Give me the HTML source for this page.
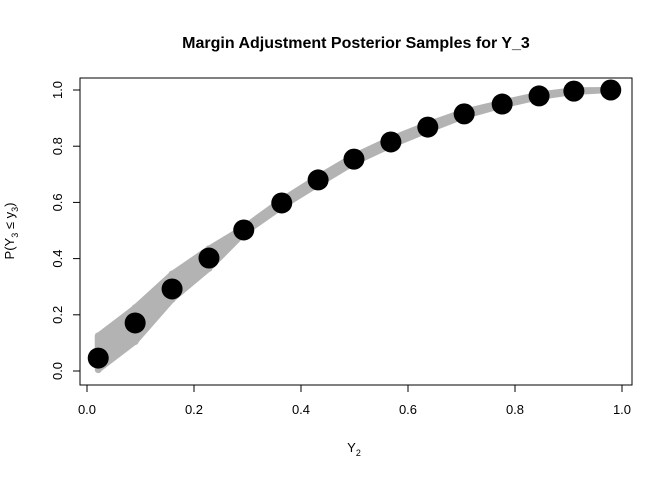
<!DOCTYPE html>
<html><head><meta charset="utf-8"><style>
body{margin:0;background:#fff;font-family:"Liberation Sans",Arial,sans-serif}
svg text{font-family:"Liberation Sans",Arial,sans-serif}
</style></head><body>
<svg id="c" width="672" height="480" xmlns="http://www.w3.org/2000/svg">
<rect width="672" height="480" fill="#fff"/>
<text x="356" y="48" text-anchor="middle" font-size="16" font-weight="bold">Margin Adjustment Posterior Samples for Y_3</text>
<rect x="80" y="78" width="552" height="307" fill="none" stroke="#000"/>
<g id="band"></g>
<g id="pts"></g>
<g id="xax"></g>
<g id="yax"></g>
<text x="354" y="452" text-anchor="middle" font-size="13">Y<tspan font-size="9" dy="4">2</tspan></text>
<text transform="translate(14,231) rotate(-90)" text-anchor="middle" font-size="13">P(Y<tspan font-size="9" dy="4">3</tspan><tspan dy="-4"> ≤ y</tspan><tspan font-size="9" dy="4">3</tspan><tspan dy="-4">)</tspan></text>
</svg>
<script>
const xs=[0.021,0.09,0.159,0.228,0.293,0.364,0.432,0.499,0.568,0.637,0.705,0.776,0.845,0.910,0.979];
const ys=[0.046,0.171,0.292,0.402,0.502,0.598,0.68,0.754,0.815,0.868,0.915,0.950,0.979,0.996,1.0];
const lo=[0.005,0.105,0.255,0.365,0.49,0.585,0.665,0.742,0.803,0.857,0.907,0.945,0.975,0.993,1.0];
const hi=[0.125,0.225,0.345,0.435,0.51,0.608,0.69,0.765,0.826,0.878,0.923,0.955,0.984,0.999,1.0];
const xTicks=[0,0.2,0.4,0.6,0.8,1.0];
const yTicks=[0,0.2,0.4,0.6,0.8,1.0];
const X=v=>87+v*535, Y=v=>371-v*281;
const NS="http://www.w3.org/2000/svg";
function mk(t,a,p){const e=document.createElementNS(NS,t);for(const k in a)e.setAttribute(k,a[k]);p.appendChild(e);return e;}
const band=document.getElementById('band');
let d='M'+xs.map((x,i)=>X(x)+','+Y(hi[i])).join('L')+'L'+xs.map((x,i)=>X(x)+','+Y(lo[i])).reverse().join('L')+'Z';
const poly=mk('path',{d:d,fill:'#b3b3b3',stroke:'#b3b3b3','stroke-width':6,'stroke-linejoin':'round'},band);


xs.forEach((x,i)=>{const l=mk('line',{x1:X(x),x2:X(x),y1:Y(lo[i]),y2:Y(hi[i]),stroke:'#b3b3b3','stroke-width':7,'stroke-linecap':'round'},band);

});
const pts=document.getElementById('pts');
xs.forEach((x,i)=>{const c=mk('circle',{cx:X(x),cy:Y(ys[i]),r:10.5,fill:'#000'},pts);

});
const xa=document.getElementById('xax');
mk('line',{x1:X(0),x2:X(1),y1:385,y2:385,stroke:'#000'},xa);
xTicks.forEach(t=>{mk('line',{x1:X(t),x2:X(t),y1:385,y2:392,stroke:'#000'},xa);
const tx=mk('text',{x:X(t),y:414,'text-anchor':'middle','font-size':13},xa);tx.textContent=t.toFixed(1);

});
const ya=document.getElementById('yax');
mk('line',{x1:80,x2:80,y1:Y(0),y2:Y(1),stroke:'#000'},ya);
yTicks.forEach(t=>{mk('line',{x1:73,x2:80,y1:Y(t),y2:Y(t),stroke:'#000'},ya);
const tx=mk('text',{x:0,y:0,'text-anchor':'middle','font-size':13,transform:`translate(${62},${Y(t)}) rotate(-90)`},ya);tx.textContent=t.toFixed(1);

});
</script>
</body></html>
